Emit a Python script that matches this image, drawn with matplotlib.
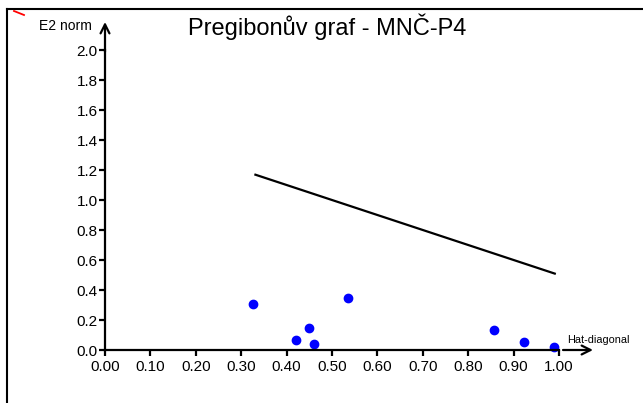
import matplotlib.pyplot as plt
from matplotlib.lines import Line2D

plt.rcParams['font.family'] = ['Liberation Sans', 'DejaVu Sans']

# diagonal of the hat matrix and normalised squared residuals
hat_diag = [0.325, 0.420, 0.450, 0.460, 0.535, 0.857, 0.923, 0.990]
e2_norm = [0.307, 0.067, 0.147, 0.042, 0.349, 0.133, 0.053, 0.018]

# Pregibon limit line  h + e2 = 1.5
limit_x = [0.329, 0.993]
limit_y = [1.171, 0.507]

x_ticks = [0.0, 0.1, 0.2, 0.3, 0.4, 0.5, 0.6, 0.7, 0.8, 0.9, 1.0]
y_ticks = [0.0, 0.2, 0.4, 0.6, 0.8, 1.0, 1.2, 1.4, 1.6, 1.8, 2.0]

W, H = 643, 403
fig = plt.figure(figsize=(W / 100, H / 100), dpi=100)
ax = fig.add_axes([105 / W, 53 / H, 454 / W, 300 / H])

ax.plot(limit_x, limit_y, color='black', lw=1.6, solid_capstyle='butt')
ax.plot(hat_diag, e2_norm, 'o', color='#0000ff', ms=6, mec='#0000ff', clip_on=False)

ax.set_xlim(0, 1.0)
ax.set_ylim(0, 2.0)
ax.set_xticks(x_ticks)
ax.set_xticklabels([f'{v:.2f}' for v in x_ticks])
ax.set_yticks(y_ticks)
ax.set_yticklabels([f'{v:.1f}' for v in y_ticks])

for side in ['top', 'right']:
    ax.spines[side].set_visible(False)
for side in ['left', 'bottom']:
    ax.spines[side].set_linewidth(1.6)
ax.tick_params(axis='both', direction='out', length=4.5, width=1.6, labelsize=11)
ax.tick_params(axis='x', pad=3)
ax.tick_params(axis='y', pad=0.8)

# axis arrows
ax.annotate('', xy=(593 / W, 1 - 350 / H), xytext=(563 / W, 1 - 350 / H),
            xycoords='figure fraction',
            arrowprops=dict(arrowstyle='->', lw=1.6, color='black',
                            mutation_scale=16, shrinkA=0, shrinkB=0))
ax.annotate('', xy=(105 / W, 1 - 22 / H), xytext=(105 / W, 1 - 52 / H),
            xycoords='figure fraction',
            arrowprops=dict(arrowstyle='->', lw=1.6, color='black',
                            mutation_scale=16, shrinkA=0, shrinkB=0))

fig.text(65 / W, 1 - 26 / H, 'E2 norm', ha='center', va='center', fontsize=10)
fig.text(598 / W, 1 - 340 / H, 'Hat-diagonal', ha='center', va='center', fontsize=7.8)
fig.text(327 / W, 1 - 27 / H, 'Pregibonův graf - MNČ-P4', ha='center', va='center',
         fontsize=17)

# frame around the plot
fig.add_artist(Line2D([7 / W, 1.0], [1 - 9 / H, 1 - 9 / H], color='black', lw=1.5,
                      transform=fig.transFigure))
fig.add_artist(Line2D([7 / W, 7 / W], [0.0, 1 - 9 / H], color='black', lw=1.5,
                      transform=fig.transFigure))
fig.add_artist(Line2D([14 / W, 24 / W], [1 - 11 / H, 1 - 15 / H], color='red', lw=1.3,
                      transform=fig.transFigure))

fig.savefig('out.png', dpi=100)
